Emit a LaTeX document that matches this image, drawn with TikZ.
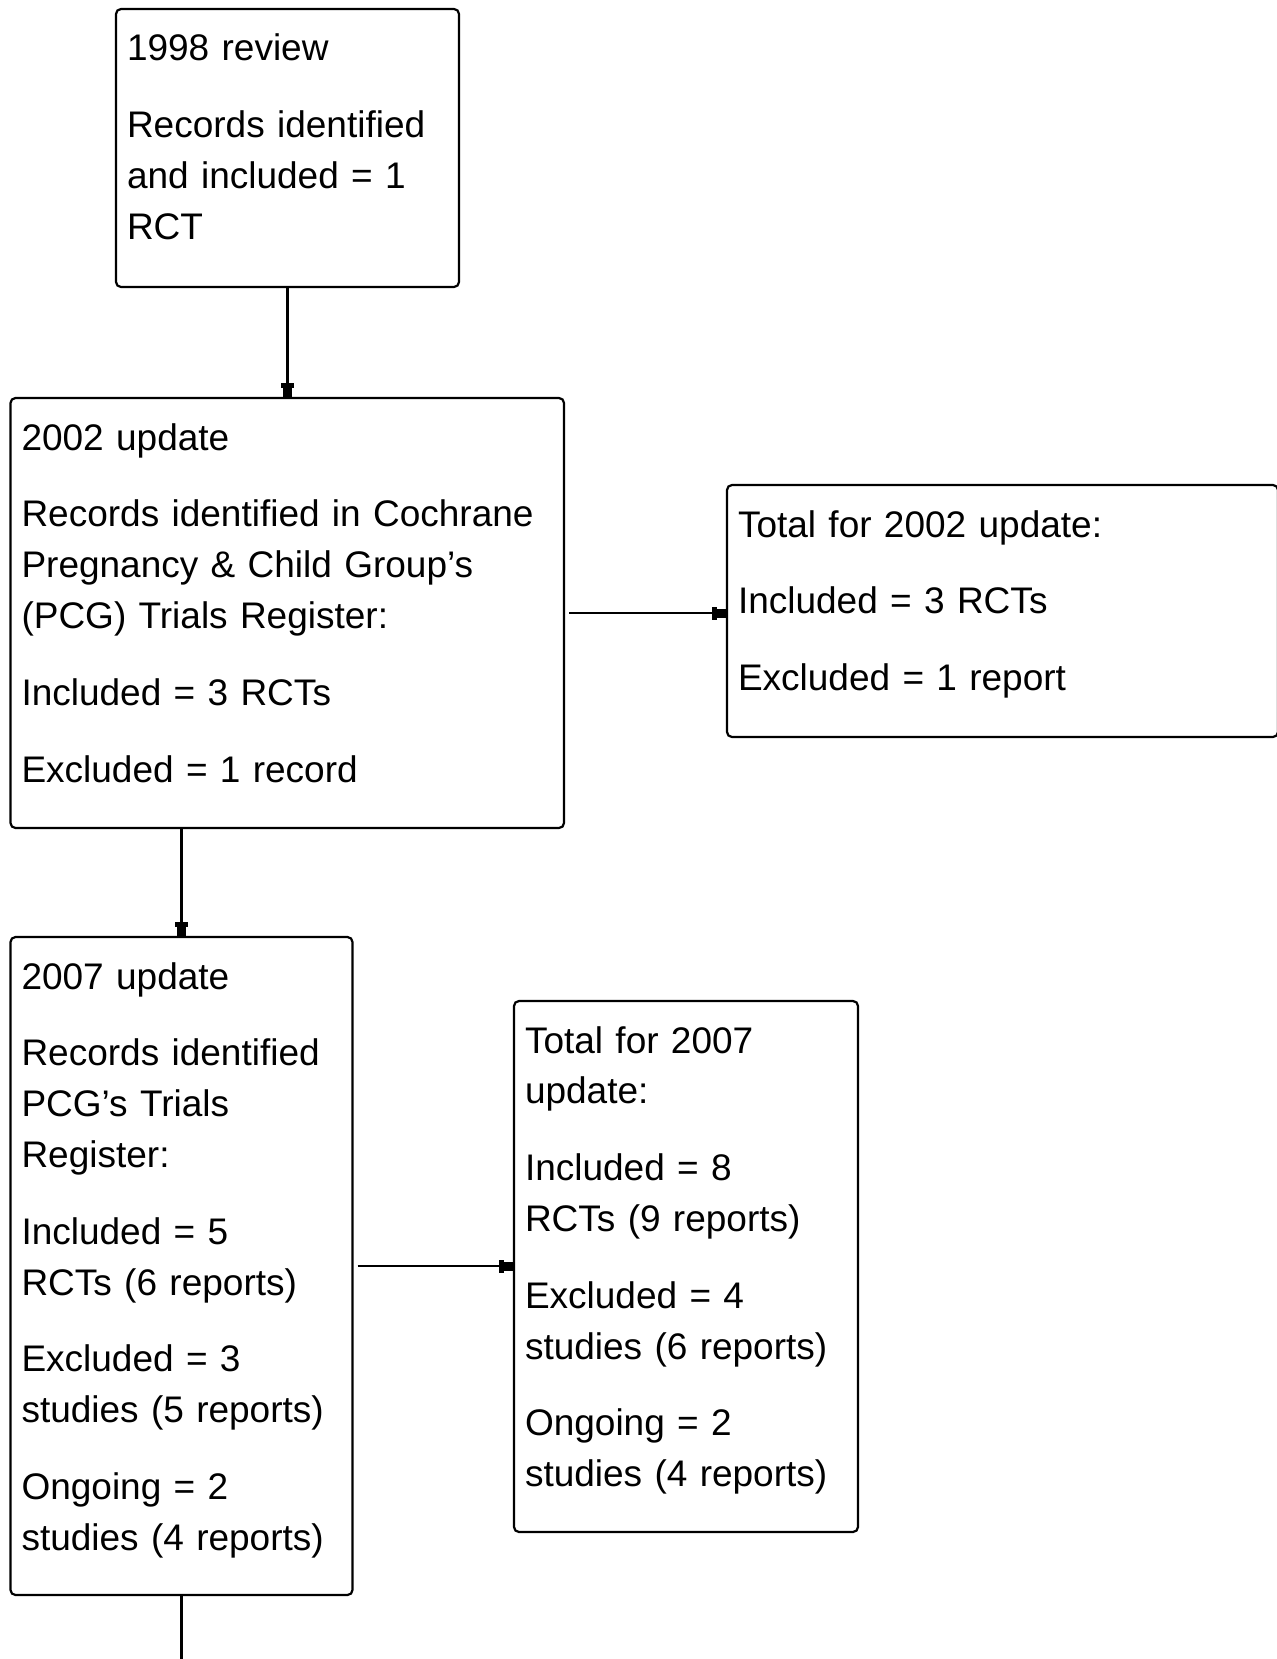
\documentclass[tikz,border=0pt]{standalone}
\usepackage{fontspec}
\setmainfont{Liberation Sans}
\usetikzlibrary{arrows.meta}
\tikzset{
  box/.style={draw, line width=1.1pt, rounded corners=2.5pt, anchor=north west,
    align=left, inner xsep=5.5pt, inner ysep=0pt, outer sep=0pt,
    font=\fontsize{18.5}{25.4}\selectfont, text height=26pt},
  arr/.style={line width=1.1pt,
    -{Rectangle[length=2.5pt,width=6.5pt,sep=0pt]Rectangle[length=5pt,width=4.5pt,sep=0pt]}},
  plain/.style={line width=1.1pt}
}
\begin{document}
\begin{tikzpicture}[x=0.5pt,y=-0.5pt]
\useasboundingbox (0,0) rectangle (1277,1659);
\node[box, text width=160.5pt, text depth=113pt] (b98) at (116,9)
  {1998 review\\[13pt]
   Records identified\\
   and included = 1\\
   RCT};
\node[box, text width=265.75pt, text depth=189pt] (u02) at (10.5,398)
  {2002 update\\[13pt]
   Records identified in Cochrane\\
   Pregnancy \& Child Group’s\\
   (PCG) Trials Register:\\[13pt]
   Included = 3 RCTs\\[13pt]
   Excluded = 1 record};
\node[box, text width=264.5pt, text depth=100pt] (t02) at (727,485)
  {Total for 2002 update:\\[13pt]
   Included = 3 RCTs\\[13pt]
   Excluded = 1 report};
\node[box, text width=160pt, text depth=303pt] (u07) at (10.5,937)
  {2007 update\\[13pt]
   Records identified\\
   PCG’s Trials\\
   Register:\\[13pt]
   Included = 5\\
   RCTs (6 reports)\\[13pt]
   Excluded = 3\\
   studies (5 reports)\\[13pt]
   Ongoing = 2\\
   studies (4 reports)};
\node[box, text width=161pt, text depth=239.5pt] (t07) at (514,1001)
  {Total for 2007\\
   update:\\[13pt]
   Included = 8\\
   RCTs (9 reports)\\[13pt]
   Excluded = 4\\
   studies (6 reports)\\[13pt]
   Ongoing = 2\\
   studies (4 reports)};
\coordinate (bottomend) at (184,1662);
\draw[arr] (b98.south) -- (b98.south |- u02.north);
\draw[arr, shorten <=2.5pt] (u02.east) -- (u02.east -| t02.west);
\draw[arr] (u07.north |- u02.south) -- (u07.north);
\draw[arr, shorten <=2.5pt] (u07.east) -- (u07.east -| t07.west);
\draw[plain] (u07.south) -- (u07.south |- bottomend);
\end{tikzpicture}
\end{document}
